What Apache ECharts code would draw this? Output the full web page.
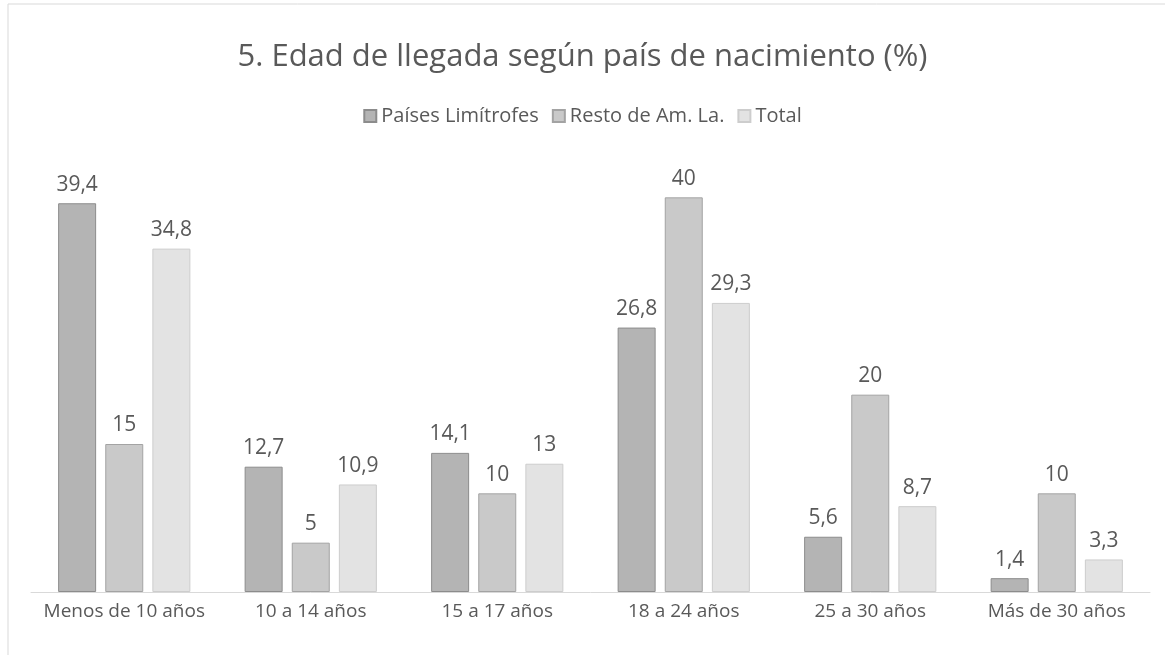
<!DOCTYPE html>
<html>
<head>
<meta charset="utf-8">
<script src="https://cdn.jsdelivr.net/npm/echarts@6/dist/echarts.min.js"></script>
<style>
  html, body { margin: 0; padding: 0; background: #fff; }
  #chart { width: 1165px; height: 655px; }
</style>
</head>
<body>
<div id="chart"></div>
<script>
const categories = ['Menos de 10 años', '10 a 14 años', '15 a 17 años', '18 a 24 años', '25 a 30 años', 'Más de 30 años'];
const limitrofes = [39.4, 12.7, 14.1, 26.8, 5.6, 1.4];
const restoAmLa = [15, 5, 10, 40, 20, 10];
const total = [34.8, 10.9, 13, 29.3, 8.7, 3.3];

const textColor = '#595959';
const font = '"Open Sans", Lato, sans-serif';

function comma(p) {
  return String(p.value).replace('.', ',');
}

function bar(name, data, fill, border) {
  return {
    name,
    type: 'bar',
    data,
    barWidth: 38,
    barGap: '24%',
    itemStyle: { color: fill, borderColor: border, borderWidth: 1 },
    label: {
      show: true,
      position: 'top',
      distance: 8,
      color: textColor,
      fontSize: 21,
      fontFamily: font,
      formatter: comma
    }
  };
}

const chart = echarts.init(document.getElementById('chart'));
chart.setOption({
  animation: false,
  backgroundColor: '#fff',
  graphic: [{
    type: 'rect',
    shape: { x: 8, y: 4, width: 1200, height: 700 },
    style: { fill: 'none', stroke: '#d9d9d9', lineWidth: 1 },
    silent: true
  }],
  title: {
    text: '5. Edad de llegada según país de nacimiento (%)',
    left: 'center',
    top: 37,
    textStyle: { color: textColor, fontSize: 31, fontWeight: 'normal', fontFamily: font }
  },
  legend: {
    top: 101,
    left: 'center',
    itemWidth: 12,
    itemHeight: 12,
    itemGap: 13,
    icon: 'rect',
    textStyle: { color: textColor, fontSize: 20, fontFamily: font }
  },
  grid: { left: 31, right: 15, top: 148, bottom: 63, containLabel: false },
  xAxis: {
    type: 'category',
    data: categories,
    axisLine: { lineStyle: { color: '#d9d9d9', width: 1 } },
    axisTick: { show: false },
    axisLabel: { color: textColor, fontSize: 19, fontFamily: font, margin: 10, interval: 0 }
  },
  yAxis: {
    type: 'value',
    min: 0,
    max: 45,
    show: false,
    splitLine: { show: false }
  },
  series: [
    bar('Países Limítrofes', limitrofes, '#b4b4b4', '#8c8c8c'),
    bar('Resto de Am. La.', restoAmLa, '#c9c9c9', '#a3a3a3'),
    bar('Total', total, '#e3e3e3', '#cdcdcd')
  ]
});
</script>
</body>
</html>
